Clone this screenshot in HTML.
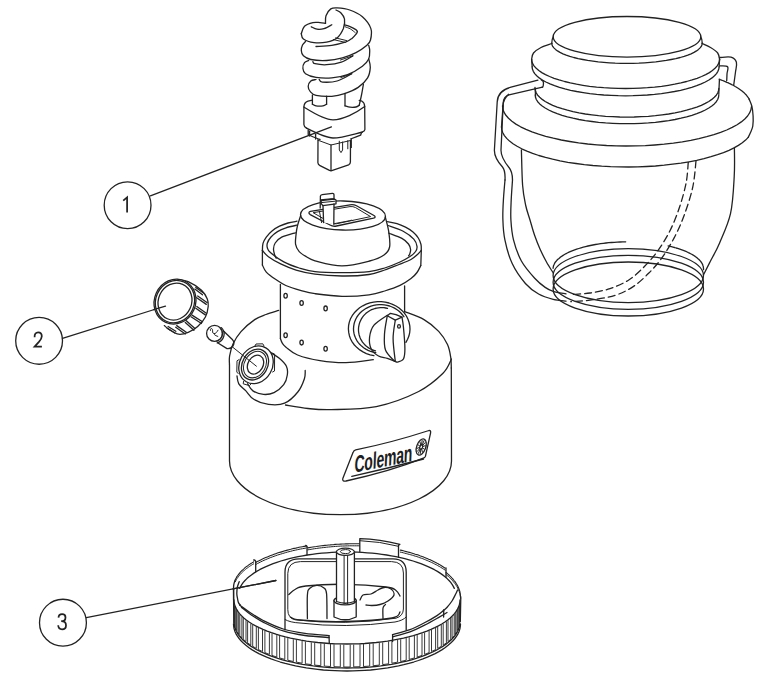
<!DOCTYPE html>
<html><head><meta charset="utf-8">
<style>
html,body{margin:0;padding:0;background:#fff;}
svg{display:block;}
text{font-family:"Liberation Sans",sans-serif;}
</style></head>
<body>
<svg width="760" height="681" viewBox="0 0 760 681">
<g fill="none" stroke="#222" stroke-width="1.3" stroke-linecap="round" stroke-linejoin="round">
<g id="callouts">
<circle cx="127.6" cy="205.2" r="23.4"/>
<line x1="150.4" y1="195.8" x2="331.4" y2="126.8"/>
<circle cx="39.1" cy="340.85" r="23.4"/>
<line x1="62.5" y1="338.4" x2="165.5" y2="306"/>
<circle cx="62.95" cy="622.7" r="23.45"/>
<line x1="86.3" y1="617.7" x2="275.9" y2="580.5"/>
<g stroke-width="1.75" stroke-linecap="butt" stroke-linejoin="miter">
<path d="M127.1,212.6 L127.1,197.4 L123.2,200.6"/>
<path d="M34.6,337.2 C34.4,334 36,332.3 38.1,332.3 C40.3,332.3 41.8,333.9 41.8,336.2 C41.8,338.5 40.6,339.9 38.9,341.9 L34.6,346.6 L41.9,346.6"/>
<path d="M58.5,617.6 C58.6,615.4 60.1,614.1 62.1,614.1 C64.1,614.1 65.5,615.5 65.5,617.4 C65.5,619.6 63.9,621.2 61.2,621.2 C64.4,621.2 66,623 66,625.4 C66,627.8 64.4,629.3 62.1,629.3 C59.8,629.3 58.3,627.8 58.2,625.3"/>
</g>

</g>
<g id="bulb">
<path d="M301.3,33.7 C301.8,32.5 302.6,28.2 304.5,26.3 C306.4,24.4 310.3,23.2 312.9,22.6 C315.5,22 317.9,22.5 320,22.6 C322.1,22.7 324.6,23.3 325.5,23.4"/>
<path d="M325.5,23.4 C325.6,22.1 325.1,18.2 326,15.8 C326.9,13.4 328.9,10.2 330.8,8.9 C332.7,7.6 334,7.7 337.1,7.9 C340.2,8.1 345.5,8.5 349.7,10 C353.9,11.5 358.9,13.7 362.4,16.8 C365.9,19.9 369.4,24.5 370.8,28.4 C372.2,32.3 371.2,37.1 370.5,40 C369.8,42.9 369,43.5 366.6,45.6 C364.2,47.7 360,50.6 356,52.6 C352,54.6 347.3,56.6 342.4,57.9 C337.5,59.2 331.9,60.2 326.6,60.5 C321.3,60.8 314.7,60.3 310.8,59.5 C306.9,58.7 305,57.3 303.4,55.8 C301.8,54.3 301.4,52.3 301.3,50.5 C301.2,48.7 301.8,46.5 302.5,45 C303.2,43.5 305,42.1 305.5,41.5"/>
<path d="M301.3,33.7 C301.6,34.6 301.3,37.5 303.4,39 C305.5,40.5 310.1,42.1 314,42.6 C317.9,43.1 322.8,42.9 326.6,42.1 C330.4,41.3 334.2,40.2 337,37.9 C339.8,35.6 342.1,31.5 343.4,28.4 C344.6,25.2 344.9,21.6 344.5,19 C344.1,16.4 342.4,14.5 341,13 C339.6,11.5 336.8,10.5 336,10"/>
<path d="M311.3,26.8 C312.2,27.2 314.9,28.9 317,29.2 C319.1,29.5 321.5,29.4 324,28.6 C326.5,27.9 330.5,25.4 331.8,24.7"/>
<path d="M316,46.5 C318.6,46.3 326.8,46.1 331.8,45.3 C336.8,44.5 342.6,42.9 346,41.8 C349.4,40.6 350.3,39.7 352,38.4 C353.7,37.1 355.3,35.1 356.2,34 C357.1,32.9 357.2,31.9 357.4,31.5"/>
<path d="M344.5,24.8 C345.4,25.1 348.1,25.8 350,26.6 C351.9,27.4 354.6,28.8 355.8,29.6 C357,30.4 357.1,31.2 357.4,31.5"/>
<path d="M345.2,26.8 C346.1,27.2 348.8,28 350.5,29 C352.2,30 354.4,32 355.2,32.6" stroke-width="1"/>
<path d="M333.4,39.6 L345.4,42.4" stroke-width="1"/>
<path d="M335.6,37.9 L346.6,40.6" stroke-width="1"/>
<path d="M308.7,60.5 C308,60.9 305.5,61.3 304.5,62.6 C303.5,63.9 302.7,66.6 302.9,68.4 C303.1,70.2 303.3,72.2 305.5,73.7 C307.7,75.2 311.6,76.7 316,77.4 C320.4,78.1 326.5,78.4 331.8,77.9 C337.1,77.5 342.5,76.6 347.6,74.7 C352.7,72.8 358.9,68.9 362.4,66.3 C365.9,63.7 367.5,61.6 368.7,59 C369.9,56.4 369.7,52.8 369.7,50.5 C369.7,48.2 368.9,46.2 368.7,45.3"/>
<path d="M312.9,61.6 C313.2,62 312.7,63.2 315,63.7 C317.3,64.2 322.2,65 326.6,64.7 C331,64.4 336.9,63.6 341.3,62.1 C345.7,60.6 351,56.8 352.9,55.8"/>
<path d="M340.4,60 L352.8,55.8" stroke-width="1"/>
<path d="M316,79.5 C315.1,79.8 312.1,79.9 310.8,81 C309.5,82.1 308.3,84.5 308.2,86.3 C308.1,88.1 309,90.1 310.3,91.6 C311.6,93.1 312.4,94.5 316,95.3 C319.6,96.1 327.1,96.6 331.8,96.3 C336.6,96 340.1,95.2 344.5,93.7 C348.9,92.2 354.3,90 358.2,87.4 C362.1,84.8 365.6,81.2 367.6,77.9 C369.6,74.6 370.1,70.6 370.3,67.4 C370.5,64.2 369,60.4 368.7,59"/>
<path d="M319.2,79.5 C319.7,79.9 319.4,81.8 322.4,82.1 C325.4,82.3 332.2,82.4 337.1,81 C342,79.6 349.4,74.9 351.8,73.7"/>
<path d="M340.8,77.6 L351.8,73.8" stroke-width="1"/>
<path d="M312.4,95 C312.4,96.5 312.4,102.7 312.4,104.2"/>
<path d="M326.6,96.2 C326.6,97.5 326.6,102.9 326.6,104.2"/>
<path d="M312.4,104.2 C313,104.5 314.2,105.5 316,105.8 C317.8,106.1 321.2,106.1 323,105.8 C324.8,105.5 326,104.5 326.6,104.2"/>
<path d="M345,93.5 C345,95.5 345,103.8 345,105.8"/>
<path d="M363.4,84.2 C363.1,86 362.2,91.5 361.5,95 C360.8,98.5 359.6,103.6 359.2,105.3"/>
<path d="M345,105.8 C345.8,106 348.2,107 350,107.2 C351.8,107.4 354.5,107.3 356,107 C357.5,106.7 358.7,105.6 359.2,105.3"/>
<path d="M312.4,100.2 L308,101.2 Q304,102.6 303.9,107 L303.9,124.5 Q304,127 306.5,128.2"/>
<path d="M359.2,100.4 L362,101.2 Q364.6,102.6 364.7,106.5 L364.9,129.5 Q364.8,131 362.5,132"/>
<path d="M303.9,107 C312,112 324,119.8 333,119.8 C343,119.8 356,113 364.7,106.5"/>
<path d="M306.5,128.2 C315,132.5 326,138 333,138 C342,138 354,134 362.5,132"/>
<path d="M308.2,130 L308.2,134.6 C314,137.2 318,139 320,139.5"/>
<path d="M361.5,132.5 L360.6,135.2 C357,136.8 352,138.5 350.5,139"/>
<path d="M309.6,131.2 L309.6,136"/>
<path d="M315.6,134.2 L315.6,139"/>
<path d="M318,139.6 L317.9,162.8 Q318,164.6 320,165.6 L329.5,170.4 Q331,171 332.5,170.4 L348.6,164.8 Q350.4,164 350.4,162 L350.5,140.6"/>
<path d="M331,145 L331,170.8"/>
<path d="M318,140.2 L331,145 L350.5,140.5" stroke-width="1"/>
<path d="M339.3,141.2 L339.3,150 L341,152.6 L342.6,150 L342.6,142" stroke-width="1"/>
<path d="M347.8,140.6 L347.8,148.8" stroke-width="1"/>
<path d="M351.4,139.2 L351.4,147.6" stroke-width="1"/>
</g>
<g id="globe">
<ellipse cx="627" cy="36.8" rx="73.8" ry="20.3"/>
<path d="M702.2,43.2 L702.0,44.8 L701.3,46.4 L700.1,47.9 L698.5,49.4 L696.5,50.9 L694.0,52.4 L691.1,53.8 L687.8,55.1 L684.2,56.3 L680.2,57.5 L675.8,58.6 L671.2,59.5 L666.3,60.4 L661.1,61.2 L655.8,61.9 L650.2,62.4 L644.6,62.8 L638.8,63.2 L632.9,63.3 L627.0,63.4 L621.1,63.3 L615.2,63.2 L609.4,62.8 L603.8,62.4 L598.2,61.9 L592.9,61.2 L587.7,60.4 L582.8,59.5 L578.2,58.6 L573.8,57.5 L569.8,56.3 L566.2,55.1 L562.9,53.8 L560.0,52.4 L557.5,50.9 L555.5,49.4 L553.9,47.9 L552.7,46.4 L552.0,44.8 L551.8,43.2"/>
<path d="M553.2,36.8 Q551.8,39 551.8,43.2"/>
<path d="M700.8,36.8 Q702.2,39 702.2,43.2"/>
<path d="M531.6,59.5 C531.9,58.4 531.9,55 533.5,53 C535.1,51 538,49.1 541,47.5 C544,45.9 550,44.2 551.8,43.5"/>
<path d="M719.6,59.5 C719.3,58.4 719.2,55 717.7,53 C716.2,51 713.1,49.1 710.5,47.5 C707.9,45.9 703.6,44.2 702.2,43.5"/>
<path d="M719.6,59.3 L719.3,61.6 L718.4,63.9 L717.0,66.1 L715.0,68.3 L712.4,70.5 L709.4,72.6 L705.7,74.6 L701.6,76.5 L697.1,78.3 L692.1,79.9 L686.6,81.5 L680.9,82.9 L674.7,84.2 L668.3,85.3 L661.6,86.3 L654.6,87.1 L647.5,87.7 L640.3,88.1 L633.0,88.4 L625.6,88.5 L618.2,88.4 L610.9,88.1 L603.7,87.7 L596.6,87.1 L589.6,86.3 L582.9,85.3 L576.5,84.2 L570.3,82.9 L564.6,81.5 L559.1,79.9 L554.1,78.3 L549.6,76.5 L545.5,74.6 L541.8,72.6 L538.8,70.5 L536.2,68.3 L534.2,66.1 L532.8,63.9 L531.9,61.6 L531.6,59.3"/>
<path d="M719.1,66.8 L718.8,69.1 L717.9,71.3 L716.5,73.6 L714.5,75.8 L712.0,77.9 L708.9,80.0 L705.3,82.0 L701.2,83.8 L696.7,85.6 L691.7,87.3 L686.3,88.9 L680.6,90.3 L674.5,91.5 L668.0,92.6 L661.4,93.6 L654.5,94.4 L647.4,95.0 L640.2,95.4 L632.9,95.7 L625.6,95.8 L618.3,95.7 L611.0,95.4 L603.8,95.0 L596.7,94.4 L589.8,93.6 L583.2,92.6 L576.7,91.5 L570.6,90.3 L564.9,88.9 L559.5,87.3 L554.5,85.6 L550.0,83.8 L545.9,82.0 L542.3,80.0 L539.2,77.9 L536.7,75.8 L534.7,73.6 L533.3,71.3 L532.4,69.1 L532.1,66.8"/>
<path d="M531.6,59.3 C531.7,60.5 532.1,65.5 532.2,66.8"/>
<path d="M719.6,59.3 C719.5,60.5 719.2,65.5 719.1,66.8"/>
<path d="M535,87.5 C535.1,88.9 535.5,94.6 535.6,96"/>
<path d="M719.4,80 C719.3,82.3 718.9,91.7 718.8,94"/>
<path d="M718.8,88.5 L718.5,90.7 L717.7,93.0 L716.3,95.2 L714.3,97.3 L711.8,99.4 L708.8,101.5 L705.3,103.4 L701.3,105.3 L696.8,107.1 L691.9,108.7 L686.6,110.2 L681.0,111.6 L675.0,112.9 L668.7,114.0 L662.1,114.9 L655.4,115.7 L648.4,116.3 L641.4,116.7 L634.2,117.0 L627.0,117.1 L619.8,117.0 L612.6,116.7 L605.6,116.3 L598.6,115.7 L591.9,114.9 L585.3,114.0 L579.0,112.9 L573.0,111.6 L567.4,110.2 L562.1,108.7 L557.2,107.1 L552.7,105.3 L548.7,103.4 L545.2,101.5 L542.2,99.4 L539.7,97.3 L537.7,95.2 L536.3,93.0 L535.5,90.7 L535.2,88.5"/>
<path d="M718.8,95.0 L718.5,97.3 L717.7,99.5 L716.3,101.7 L714.3,103.9 L711.8,106.0 L708.8,108.0 L705.3,110.0 L701.3,111.9 L696.8,113.6 L691.9,115.3 L686.6,116.8 L681.0,118.2 L675.0,119.5 L668.7,120.6 L662.1,121.5 L655.4,122.3 L648.4,122.9 L641.4,123.3 L634.2,123.6 L627.0,123.7 L619.8,123.6 L612.6,123.3 L605.6,122.9 L598.6,122.3 L591.9,121.5 L585.3,120.6 L579.0,119.5 L573.0,118.2 L567.4,116.8 L562.1,115.3 L557.2,113.6 L552.7,111.9 L548.7,110.0 L545.2,108.0 L542.2,106.0 L539.7,103.9 L537.7,101.7 L536.3,99.5 L535.5,97.3 L535.2,95.0"/>
<path d="M503.0,106.0 L503.0,105.7 L503.0,105.4 L503.0,105.1 L503.1,104.8 L503.1,104.5 L503.1,104.2 L503.2,103.9 L503.2,103.6 L503.3,103.3 L503.3,103.0 L503.4,102.7 L503.5,102.4 L503.6,102.1 L503.7,101.9 L503.8,101.6 L503.9,101.3 L504.0,101.0 L504.1,100.7 L504.2,100.4 L504.4,100.1 L504.5,99.8 L504.6,99.5 L504.8,99.2 L505.0,98.9 L505.1,98.6 L505.3,98.3 L505.5,98.0 L505.7,97.8 L505.9,97.5 L506.1,97.2 L506.3,96.9 L506.5,96.6 L506.7,96.3 L506.9,96.0 L507.2,95.7 L507.4,95.4 L507.6,95.2 L507.9,94.9 L508.2,94.6 L508.4,94.3"/>
<path d="M719.1,79.2 L720.3,79.7 L721.4,80.1 L722.5,80.5 L723.6,80.9 L724.7,81.4 L725.8,81.8 L726.8,82.3 L727.8,82.7 L728.8,83.2 L729.8,83.6 L730.8,84.1 L731.7,84.6 L732.6,85.0 L733.5,85.5 L734.4,86.0 L735.2,86.5 L736.1,87.0 L736.9,87.5 L737.7,88.0 L738.5,88.5 L739.2,89.0 L739.9,89.5 L740.6,90.0 L741.3,90.5 L742.0,91.0 L742.6,91.5 L743.2,92.1 L743.8,92.6 L744.4,93.1 L744.9,93.6 L745.5,94.2 L746.0,94.7 L746.4,95.2 L746.9,95.8 L747.3,96.3 L747.7,96.9 L748.1,97.4 L748.5,98.0 L748.8,98.5 L749.1,99.1"/>
<path d="M751.5,106.7 L750.9,109.8 L749.6,112.9 L747.6,116.0 L744.8,119.0 L741.3,121.9 L737.1,124.7 L732.2,127.4 L726.7,130.0 L720.6,132.4 L713.9,134.7 L706.7,136.7 L698.9,138.6 L690.8,140.3 L682.3,141.8 L673.4,143.1 L664.2,144.2 L654.8,145.0 L645.3,145.6 L635.6,145.9 L625.9,146.0 L616.2,145.8 L606.6,145.5 L597.0,144.8 L587.7,144.0 L578.6,142.9 L569.8,141.5 L561.3,140.0 L553.3,138.2 L545.7,136.3 L538.6,134.2 L532.0,131.9 L526.0,129.4 L520.6,126.8 L515.9,124.1 L511.9,121.2 L508.5,118.3 L505.9,115.3 L504.0,112.2 L502.9,109.1 L502.5,106.0"/>
<path d="M748.2,137.4 L745.6,140.1 L742.3,142.8 L738.4,145.4 L734.0,147.9 L729.0,150.3 L723.5,152.6 L717.5,154.7 L711.0,156.7 L704.0,158.6 L696.7,160.3 L689.0,161.8 L681.0,163.1 L672.7,164.2 L664.2,165.2 L655.5,166.0 L646.6,166.5 L637.7,166.9 L628.6,167.0 L619.6,166.9 L610.6,166.7 L601.7,166.2 L592.9,165.5 L584.3,164.6 L576.0,163.5 L567.8,162.3 L560.0,160.8 L552.6,159.2 L545.5,157.4 L538.8,155.5 L532.6,153.4 L526.9,151.1 L521.7,148.8 L517.1,146.3 L513.0,143.7 L509.5,141.1 L506.7,138.4 L504.4,135.6 L502.8,132.7 L501.8,129.9 L501.5,127.0"/>
<path d="M503,106 C502.8,109.5 501.8,123.5 501.5,127"/>
<path d="M749.1,99 C749.5,100.2 751.1,103.2 751.8,106 C752.5,108.8 752.9,112.7 753.1,116 C753.3,119.3 753.2,123.2 752.8,126 C752.4,128.8 751.3,130.6 750.5,132.5 C749.7,134.4 748.6,136.6 748.2,137.4"/>
<path d="M521.4,150 C521.6,155.9 521.9,176 522.6,185.2 C523.3,194.4 524.4,199.2 525.6,205 C526.8,210.8 528.5,215 530,220 C531.5,225 532.8,230.2 534.5,235 C536.2,239.8 538,244.6 540,249.1 C542,253.6 544.3,258 546.5,262 C548.7,266 552.1,271.1 553.2,272.9"/>
<path d="M734.4,148 C734.4,152.8 734.9,165.9 734.2,176.8 C733.6,187.8 733,202.6 730.5,213.7 C728,224.8 722.9,235.1 719.5,243.2 C716.1,251.2 712.7,256.7 710,262 C707.3,267.3 704.5,272.8 703.4,275"/>
<ellipse cx="628.3" cy="275.6" rx="75.2" ry="27"/>
<ellipse cx="628.3" cy="282.3" rx="75.2" ry="27"/>
<ellipse cx="628.3" cy="289" rx="75.2" ry="27"/>
<path d="M553.1,268.3 L553.2,267.3 L553.4,266.3 L553.7,265.3 L554.2,264.3 L554.7,263.2 L555.3,262.2 L556.1,261.3 L556.9,260.3 L557.9,259.3 L559.0,258.4 L560.1,257.4 L561.4,256.5 L562.7,255.6 L564.1,254.7 L565.7,253.8 L567.3,253.0 L569.0,252.2 L570.8,251.4 L572.7,250.6 L574.7,249.9 L576.7,249.2 L578.8,248.5 L581.0,247.8 L583.3,247.2 L585.6,246.6 L588.0,246.0 L590.4,245.5 L592.9,245.0 L595.4,244.5 L598.0,244.1 L600.6,243.7 L603.3,243.3 L606.0,243.0 L608.8,242.7 L611.5,242.5 L614.3,242.3 L617.2,242.1 L620.0,242.0 L622.8,241.9 L625.7,241.8"/>
<path d="M668.1,245.9 L669.8,246.3 L671.4,246.7 L673.0,247.1 L674.6,247.5 L676.1,248.0 L677.6,248.4 L679.1,248.9 L680.5,249.4 L681.9,249.9 L683.3,250.4 L684.6,250.9 L685.9,251.4 L687.2,252.0 L688.4,252.6 L689.5,253.1 L690.6,253.7 L691.7,254.3 L692.8,254.9 L693.8,255.5 L694.7,256.1 L695.6,256.8 L696.5,257.4 L697.3,258.0 L698.0,258.7 L698.7,259.3 L699.4,260.0 L700.0,260.7 L700.6,261.4 L701.1,262.0 L701.6,262.7 L702.0,263.4 L702.4,264.1 L702.7,264.8 L702.9,265.5 L703.2,266.2 L703.3,266.9 L703.4,267.6 L703.5,268.3 L703.5,269.0 L703.5,269.7"/>
<path d="M537.9,80.1 L511,87.2 C501,89.7 497.5,95 497.2,102 L494.4,150 C494.2,157 498,162 502.5,167 C505,170 505.3,174 505,180"/>
<path d="M505,180 C504.7,183.3 503.8,193.3 503.4,200 C503,206.7 502.6,213.4 502.9,220 C503.1,226.6 503.3,232.5 504.9,239.8 C506.4,247.1 508.8,256.3 512.2,263.6 C515.6,270.9 521,278.4 525.4,283.5 C529.8,288.6 534,291.4 538.6,294 C543.2,296.6 548.6,298.1 553.2,299.3 C557.8,300.5 563.9,300.9 566,301.2"/>
<path d="M542.5,87.2 L509,94.8 C505.5,95.8 503.4,99 503.2,103 L501,150 C500.8,157 504.5,162 509,167.5 C511.5,170.5 512.5,174 512.5,180"/>
<path d="M512.5,180 C512.3,183.3 511.5,193.3 511.2,200 C510.9,206.7 510.5,213.4 510.9,220 C511.3,226.6 511.8,233 513.5,239.8 C515.2,246.6 517.9,254.6 521.4,261 C524.9,267.4 530.7,273.8 534.7,278.2 C538.7,282.6 542.1,285.2 545.2,287.4 C548.3,289.6 549.7,290.3 553.2,291.4 C556.7,292.5 563.9,293.4 566,293.8"/>
<path d="M541.2,79.8 Q543.6,80.6 543.5,83 L543.2,86 Q543,87.3 541.8,87.4"/>
<path d="M719.5,57.5 C721.4,57.5 728.2,56.4 731,57.2 C733.8,58 735.6,59.8 736.4,62.3 C737.1,64.8 736,68.2 735.5,72 C735,75.8 734,83 733.7,85.2"/>
<path d="M719.8,65.9 C721.1,66 726.4,65.4 727.6,66.7 C728.8,68 727.1,71.7 727,74 C726.9,76.3 726.8,79.7 726.7,80.8"/>
<path d="M688.3,162.1 C687.9,165.6 687.6,175.5 686.1,183 C684.6,190.5 682.2,199.2 679.5,207.3 C676.8,215.4 673.3,224.2 669.6,231.5 C665.9,238.8 661.6,245.4 657.4,251.3 C653.2,257.2 649,261.9 644.2,266.7 C639.4,271.5 634.5,276.4 628.8,280 C623.1,283.6 616.5,286.4 610,288.6 C603.5,290.8 596.5,292 590,293 C583.5,294 574,294.3 570.8,294.6" stroke-dasharray="7 4"/>
<path d="M696,161 C695.5,165.4 694.7,178.2 692.7,187.4 C690.7,196.6 687,207.6 683.9,216 C680.8,224.4 677.7,231.1 674,238.1 C670.3,245.1 666.1,252 661.9,257.9 C657.7,263.8 653.4,268.5 648.6,273.3 C643.8,278.1 638.8,282.9 633.2,286.6 C627.6,290.3 622.2,293.1 615,295.4 C607.8,297.7 597.4,299.1 590,300.2 C582.6,301.2 574,301.4 570.8,301.7" stroke-dasharray="7 4"/>
</g>
<g id="base">
<ellipse cx="343" cy="215.5" rx="42.5" ry="14.5" transform="rotate(1.2 343 215.5)"/>
<path d="M310.5,211.4 L350,204.8 Q353.5,204.2 356.5,205.8 L374,215.5 Q376.5,217.2 373.5,218.2 L336.5,226 Q333,226.8 330,225 L310.2,214.6 Q307.5,212.4 310.5,211.4 Z"/>
<path d="M313.5,212.6 L350,206.6 Q353,206.2 355.6,207.6 L370.6,216.6 L336.4,223.8 Q333.6,224.4 331,223 Z" stroke-width="1"/>
<path d="M319.4,211.2 L321.6,222.6" stroke-width="1"/>
<path d="M334.6,223.6 L349.2,220.8 Q351.6,219.6 353,220.6" stroke-width="1"/>
<path d="M320.2,208 L320.4,196.2 Q320.6,194.8 322.2,194.6 L332.4,193.4 Q334,193.3 334,195 L334,199 L336,200 L336,203.8 L334,204 L333.8,224.2 L323.6,222.6 L323,205.5 L320.2,208 Z" fill="#fff" stroke="none"/>
<path d="M320.2,208 L320.4,196.2 Q320.6,194.8 322.2,194.6 L332.4,193.4 Q334,193.3 334,195 L334,198.6 L320.4,199.8" fill="#fff"/>
<path d="M321.2,203.6 L321.2,200.6 L334.4,199 L336,200 L336,203.8 L322.8,205.6 Z" fill="#fff"/>
<path d="M321.4,202.6 L335,201.2" stroke-width="1"/>
<path d="M323,205.5 L323.6,222.6"/>
<path d="M334,204 L333.8,224.2"/>
<path d="M300.6,215.6 C300.1,217.3 298.2,222.8 297.4,226 C296.6,229.2 296.3,231.9 296,235 C295.7,238.1 295.1,241.6 295.6,244.4 C296.1,247.2 297.4,249.6 299.2,251.6 C301,253.6 303.8,255.2 306.4,256.7 C309,258.2 309.1,259.3 315,260.8 C320.9,262.3 332.9,265.9 342,265.9 C351.1,265.9 362.6,262.8 369.6,261 C376.6,259.2 380.7,257.3 384,255 C387.3,252.7 388.8,250.8 389.6,247 C390.4,243.2 389.5,237 388.8,232 C388.1,227 385.9,219.5 385.3,217"/>
<path d="M297,221.2 C295.5,221.5 290.9,222.2 288,223 C285.1,223.8 282.2,224.9 279.5,226.2 C276.8,227.5 274.2,229.2 272,231 C269.8,232.8 267.8,235.1 266.3,237.2 C264.8,239.3 263.6,241.2 263,243.4 C262.4,245.6 262.5,249.3 262.4,250.5"/>
<path d="M387.6,221.6 C389.2,221.9 394,222.7 397,223.6 C400,224.5 402.8,225.8 405.5,227.2 C408.2,228.6 410.9,230.2 413,232 C415.1,233.8 417,235.9 418.3,238 C419.6,240.1 420.5,242.4 421,244.5 C421.5,246.6 421.2,249.5 421.3,250.5"/>
<path d="M262.4,250.5 C262.4,252.9 262.4,262.6 262.4,265"/>
<path d="M421.3,250.5 C421.2,253 420.9,263 420.8,265.5"/>
<path d="M262.5,250.5 C263.5,251.5 265.4,254.5 268.4,256.7 C271.4,258.9 276.1,261.7 280.7,263.9 C285.3,266.1 290.4,268.4 296.1,270.1 C301.8,271.8 307.4,273.2 315,274.2 C322.6,275.2 333,275.9 342,276 C351,276.1 361.9,275.5 369,274.5 C376.1,273.5 379.7,271.7 384.7,270 C389.7,268.3 394.6,266.2 399,264.5 C403.4,262.8 407.9,261.2 411,259.5 C414.1,257.8 415.8,256 417.5,254.5 C419.2,253 420.7,251.2 421.3,250.5"/>
<path d="M262.4,265 C263,266.2 264.1,269.7 266.3,272.1 C268.5,274.5 272.2,277.1 275.5,279.3 C278.8,281.5 281.5,283.6 285.8,285.5 C290.1,287.4 296.3,289.2 301.2,290.6 C306.1,292 308.2,292.8 315,293.7 C321.8,294.6 333,296.1 342,296.3 C351,296.5 361.9,295.7 369,294.8 C376.1,293.9 379.5,292.6 384.7,291 C389.9,289.4 395.6,287.5 400,285.4 C404.4,283.3 408.2,280.6 411,278.5 C413.8,276.4 415.4,274.7 417,272.5 C418.6,270.3 420.2,266.7 420.8,265.5"/>
<path d="M296.7,225.2 C294.9,225.6 289.2,226.7 286,227.8 C282.8,228.9 280,230.1 277.5,231.6 C275,233.1 272.7,235.1 271,237 C269.3,238.9 268,241.2 267.4,243 C266.8,244.8 266.9,246.4 267.4,248 C267.9,249.6 267.7,250.3 270.4,252.6 C273.1,254.9 279,259.3 283.8,261.9 C288.6,264.5 294,266.4 299.2,268 C304.4,269.6 307.9,270.8 315,271.6 C322.1,272.4 333,272.6 342,272.6 C351,272.6 361.9,272.4 369,271.6 C376.1,270.8 379.5,269.6 384.7,268 C389.9,266.4 395.8,263.9 400,262 C404.2,260.1 407.4,258.2 410,256.5 C412.6,254.8 414.4,253.2 415.6,251.5 C416.8,249.8 417.3,248.5 417,246.4 C416.7,244.3 416.1,241.6 413.8,239.1 C411.5,236.6 407.5,233.5 403.2,231.2 C398.9,228.9 390.5,226.4 388,225.5"/>
<path d="M295.4,232.8 C293.1,233.5 285.1,235.5 281.7,237.2 C278.3,238.9 276.6,241 275.2,243 C273.8,245 273.6,247.1 273.5,249 C273.4,250.9 274.1,253 274.5,254.5 C274.9,256 275.9,257.6 276.2,258.2"/>
<path d="M388.6,233 C390.8,233.9 398.6,236.6 401.9,238.4 C405.2,240.2 407.1,242.2 408.5,244 C409.9,245.8 410.4,247.9 410.6,249.5 C410.8,251.1 410.1,252.8 409.8,253.8 C409.5,254.9 408.8,255.5 408.6,255.8"/>
<path d="M280.4,284.5 C280.4,293.5 280.4,329.6 280.4,338.6"/>
<path d="M404.6,286 C404.6,290.3 404.6,307.5 404.6,311.8"/>
<path d="M280.4,338.6 C280.7,339.4 281.4,341.8 282.3,343.2 C283.2,344.6 283.4,345.2 286,347.2 C288.6,349.2 291.9,352.8 297.6,355 C303.3,357.2 311.9,359.3 320,360.6 C328.1,361.9 337.1,362.9 346,362.7 C354.9,362.5 368.8,360.2 373.3,359.7"/>
<ellipse cx="285.6" cy="295.8" rx="1.7" ry="2.4"/>
<ellipse cx="301.6" cy="303" rx="1.7" ry="2.4"/>
<ellipse cx="325.6" cy="308.4" rx="1.7" ry="2.4"/>
<ellipse cx="285.6" cy="335.2" rx="1.7" ry="2.4"/>
<ellipse cx="301.6" cy="342.6" rx="1.7" ry="2.4"/>
<ellipse cx="325.6" cy="348.8" rx="1.7" ry="2.4"/>
<path d="M278.7,310.4 C276.6,311.1 270,313 266,314.5 C262,316 258.9,316.8 254.7,319.6 C250.5,322.5 244.6,327.5 241,331.6 C237.4,335.7 234.9,339.9 233,344 C231.1,348.1 230.2,352.5 229.6,356 C229,359.5 229.5,363.5 229.5,365"/>
<path d="M404.6,311.6 C407.8,312.9 418.3,316.3 424,319.6 C429.7,322.9 434.8,327.2 438.7,331.4 C442.6,335.6 445.5,340.2 447.5,344.6 C449.5,349 450.2,353.9 450.8,357.8 C451.4,361.7 451.2,366.3 451.3,368"/>
<path d="M229.5,365 L229.5,461 A111,53.7 0 0 0 451.5,461 L451.3,368"/>
<path d="M285.5,405 C289.2,405.6 300.4,407.7 308,408.5 C315.6,409.3 319.6,409.9 331,409.6 C342.4,409.3 361.7,409.6 376.3,406.6 C390.9,403.6 407.6,397.1 418.7,391.5 C429.8,385.9 437.5,378.7 443,373.3 C448.5,367.9 450.1,361.4 451.5,359"/>
<path d="M237,376 C237.3,377.3 237.3,381.3 238.8,383.8 C240.3,386.3 243.4,388.3 245.9,390.9 C248.4,393.5 250,397.1 253.8,399.3 C257.6,401.6 263.4,403.8 268.5,404.4 C273.6,405 279.7,405.3 284.6,403.2 C289.5,401.1 294.5,396.1 297.8,392 C301.1,387.9 303.2,382.3 304.4,378.7 C305.6,375.1 305.1,371.9 305.2,370.5"/>
<ellipse cx="256" cy="364.8" rx="19.6" ry="16.4" transform="rotate(-60 256 364.8)" fill="#fff"/>
<path d="M271.4,353 C272.7,353.9 276.8,356.1 279.3,358.3 C281.8,360.5 285.1,363.4 286.4,366.2 C287.7,369 287.8,371.9 287.3,375 C286.9,378.1 285.9,381.8 283.7,384.7 C281.5,387.6 277.4,391 274,392.6 C270.6,394.2 267,394.7 263.5,394.4 C260,394.1 255.6,392.7 252.9,390.9 C250.2,389.1 248.5,385 247.6,383.8"/>
<ellipse cx="255" cy="364.6" rx="16.2" ry="12.6" transform="rotate(-60 255 364.6)"/>
<ellipse cx="255" cy="364.6" rx="14" ry="10.6" transform="rotate(-60 255 364.6)" stroke-width="1"/>
<ellipse cx="255.5" cy="364.6" rx="10" ry="7.5" transform="rotate(-60 255.5 364.6)"/>
<path d="M255,346 L256,344 L262.8,343.8 L264,346" stroke-width="1"/>
<path d="M272,353 L274.6,354 L274.5,371 L272.6,372" stroke-width="1"/>
<path d="M239.2,359.5 L237,360.8 L236.8,372 L238.2,373.6" stroke-width="1"/>
<path d="M243.6,381.4 L243.2,383.8 L249.4,385.6 L250.8,384.2" stroke-width="1"/>
<path d="M232.5,347 L256.4,366.2" stroke-width="1"/>
<path d="M373.9,355.6 L370.1,354.8 L366.4,353.6 L363.0,351.9 L359.8,349.9 L357.0,347.6 L354.4,345.0 L352.3,342.1 L350.6,339.0 L349.4,335.7 L348.7,332.4 L348.4,328.9 L348.6,325.5 L349.3,322.1 L350.5,318.8 L352.2,315.7 L354.3,312.8 L356.8,310.2 L359.6,307.8 L362.8,305.8 L366.2,304.1 L369.8,302.9 L373.6,302.1 L377.5,301.6 L381.3,301.7 L385.2,302.1 L389.0,303.0 L392.6,304.3 L396.0,306.0 L399.1,308.0 L401.9,310.4 L404.4,313.1 L406.4,316.0 L408.0,319.2 L409.1,322.5 L409.8,325.8 L410.0,329.3 L409.7,332.7 L408.9,336.1 L407.6,339.3 L405.9,342.4"/>
<path d="M375.8,352.6 L373.2,352.1 L370.6,351.3 L368.1,350.3 L365.8,349.1 L363.6,347.7 L361.6,346.1 L359.7,344.3 L358.1,342.3 L356.7,340.3 L355.6,338.1 L354.6,335.8 L354.0,333.4 L353.6,331.0 L353.5,328.6 L353.7,326.2 L354.1,323.8 L354.8,321.4 L355.7,319.2 L356.9,317.0 L358.4,314.9 L360.0,313.0 L361.9,311.2 L364.0,309.7 L366.2,308.3 L368.6,307.1 L371.0,306.1 L373.6,305.4 L376.3,304.9 L379.0,304.6 L381.7,304.6 L384.4,304.9 L387.0,305.3 L389.6,306.0 L392.1,307.0 L394.5,308.1 L396.7,309.5 L398.8,311.0 L400.7,312.8 L402.4,314.7 L403.9,316.7"/>
<path d="M375.5,350.9 L373.8,350.3 L372.1,349.7 L370.5,348.9 L369.0,348.1 L367.5,347.1 L366.1,345.9 L364.8,344.7 L363.6,343.4 L362.5,342.1 L361.6,340.6 L360.7,339.1 L360.0,337.5 L359.4,335.8 L359.0,334.2 L358.7,332.5 L358.5,330.8 L358.5,329.0 L358.6,327.3 L358.9,325.6 L359.3,323.9 L359.8,322.3 L360.5,320.7 L361.3,319.1 L362.2,317.6 L363.3,316.2 L364.4,314.9 L365.7,313.6 L367.0,312.5 L368.5,311.5 L370.0,310.5 L371.6,309.7 L373.3,309.1 L375.0,308.5 L376.7,308.1 L378.5,307.8 L380.3,307.6 L382.1,307.6 L383.9,307.7 L385.7,308.0 L387.5,308.3"/>
<path d="M387.3,315.2 C385.1,316.9 376.9,321.6 374,325.2 C371.1,328.8 370.1,333.1 369.6,337 C369.1,340.9 369.6,345.5 371.1,348.7 C372.6,351.9 375.8,354.4 378.5,356 C381.2,357.6 384.6,357.4 387.3,358.3 C390,359.2 393.4,360.7 394.6,361.2"/>
<path d="M387.3,315.7 C386.8,318.8 384.8,328.3 384.5,334 C384.2,339.7 383.8,345.4 385.5,350 C387.2,354.6 393.1,359.5 394.6,361.4"/>
<path d="M395.3,320.1 C394.9,323.2 393.1,331.6 393.1,338.5 C393.1,345.4 394.9,357.6 395.3,361.4"/>
<path d="M387.3,315.7 L390.4,313.3 L396,314.6 L402,317.2 L395.3,320.1 Z"/>
<path d="M402,317.2 C402.2,318.8 402.9,321.4 403.4,326.7 C403.9,331.9 404.9,343.3 404.9,348.7 C404.9,354.1 404.6,356.8 403.4,359 C402.2,361.2 398.9,361.6 397.5,362 C396.1,362.4 395.7,361.5 395.3,361.4"/>
<ellipse cx="399" cy="326.4" rx="1.4" ry="1.8"/>
<path d="M355.7,449.9 Q392,442.5 429,430.5 Q431,430.3 430.6,432.8 L425.4,456.4 Q425,457.6 423.4,458.2 Q390,471.5 346,481 Q342,481.5 342.8,478.6 L353,452.6 Q353.8,450.4 355.7,449.9 Z"/>
<path d="M351.8,476.4 Q389,468 423.6,459" stroke-width="1.3"/>
<ellipse cx="421.2" cy="447" rx="4.5" ry="8.4" transform="rotate(20 421.2 447)" stroke-width="1.3"/>
<path d="M422.21,447.69 L424.22,449.13 M421.63,448.60 L422.39,452.02 M420.92,449.07 L420.25,453.56 M420.30,448.99 L418.36,453.34 M419.91,448.38 L417.23,451.43 M419.87,447.39 L417.17,448.32 M420.19,446.31 L418.18,444.87 M420.77,445.40 L420.01,441.98 M421.48,444.93 L422.15,440.44 M422.10,445.01 L424.04,440.66 M422.49,445.62 L425.17,442.57 M422.53,446.61 L425.23,445.68 " stroke-width="1"/>
<ellipse cx="421.2" cy="447" rx="1.4" ry="2.4" transform="rotate(20 421.2 447)" stroke-width="1"/>
</g>
<g id="cap">
<path d="M177.7,279.3 C179.4,279.7 184.2,279.9 188.2,281.7 C192.2,283.5 198.3,287.4 201.5,290.3 C204.7,293.2 206.2,296.2 207.3,298.9 C208.4,301.6 208.5,303.5 208.2,306.5 C207.9,309.5 207.2,313.7 205.4,317 C203.7,320.3 200.6,323.9 197.7,326.5 C194.8,329.1 191.4,331 188.2,332.3 C185,333.6 181.8,334.7 178.6,334.2 C175.4,333.7 171.5,330.8 169.1,329.4 C166.7,328 165.1,326.2 164.3,325.6"/>
<path d="M195.8,287.4 L203.5,293.1"/>
<path d="M194.8,289.1 L202.5,294.8"/>
<path d="M197.7,296.0 L207.3,302.7"/>
<path d="M196.7,297.7 L206.3,304.4"/>
<path d="M196.8,306.5 L206.3,313.2"/>
<path d="M195.8,308.2 L205.3,314.9"/>
<path d="M192.0,315.1 L202.5,321.8"/>
<path d="M191.0,316.8 L201.5,323.5"/>
<path d="M186.3,320.8 L194.9,328.5"/>
<path d="M185.3,322.5 L193.9,330.2"/>
<path d="M176.7,325.6 L186.3,332.3"/>
<path d="M175.7,327.3 L185.3,334.0"/>
<path d="M168.1,326.5 L175.8,331.3"/>
<path d="M167.1,328.2 L174.8,333.0"/>
<ellipse cx="175" cy="301.6" rx="20.6" ry="22.8" transform="rotate(24 175 301.6)" fill="#fff"/>
<ellipse cx="175" cy="301.6" rx="19.3" ry="21.5" transform="rotate(24 175 301.6)"/>
<ellipse cx="175" cy="301.6" rx="16.6" ry="18.8" transform="rotate(24 175 301.6)"/>
<path d="M223.5,331 L232.6,339.8 Q235,342.6 233,346 Q230.5,349.2 227,348.6 L217.6,342.7"/>
<circle cx="214.6" cy="333.4" r="8" fill="#fff"/>
<path d="M221.4,327.6 A9,9 0 0 1 217.2,342.8"/>
<path d="M220.2,328.6 A7.6,7.6 0 0 1 216.6,341.2" stroke-width="0.9"/>
<path d="M210.4,330.4 C209.8,328.5 211.8,327.8 212.4,329.4 C213,331.4 212,333 213.8,333.6 C215.8,334 217,331.8 218,330.2 M214.4,334.6 C215.4,335.6 216.6,336 217.8,336.4" stroke-width="1"/>
<path d="M153.5,309.6 L165.5,306.1"/>
</g>
<g id="cover">
<path d="M233.6,600.0 L233.6,590.0 L233.6,586.1 L233.8,584.7 L234.0,583.7 L234.2,582.9 L234.4,582.2 L234.6,581.6 L234.8,581.1 L235.0,580.5 L235.2,580.1"/>
<path d="M235.3,579.8 L235.9,578.6 L236.5,577.4 L237.1,576.4 L237.8,575.5 L238.4,574.7 L239.0,573.9 L239.6,573.1 L240.2,572.4 L240.8,571.7 L241.4,571.1 L242.0,570.5 L242.7,569.9 L243.3,569.3 L243.9,568.8 L244.5,568.2 L245.1,567.7 L245.7,567.2 L246.3,566.7 L247.0,566.3 L247.6,565.8 L248.2,565.4 L248.8,564.9 L249.4,564.5 L250.0,564.1 L250.6,563.7 L251.2,563.3 L251.9,562.9 L252.5,562.5 L253.1,562.2 L253.7,561.8" stroke-width="1.1"/>
<path d="M235.3,581.8 L235.9,580.6 L236.5,579.4 L237.1,578.4 L237.8,577.5 L238.4,576.7 L239.0,575.9 L239.6,575.1 L240.2,574.4 L240.8,573.7 L241.4,573.1 L242.0,572.5 L242.7,571.9 L243.3,571.3 L243.9,570.8 L244.5,570.2 L245.1,569.7 L245.7,569.2 L246.3,568.7 L247.0,568.3 L247.6,567.8 L248.2,567.4 L248.8,566.9 L249.4,566.5 L250.0,566.1 L250.6,565.7 L251.2,565.3 L251.9,564.9 L252.5,564.5 L253.1,564.2 L253.7,563.8" stroke-width="1"/>
<path d="M255.7,562.6 L257.4,561.6 L259.0,560.8 L260.7,559.9 L262.4,559.1 L264.0,558.3 L265.7,557.6 L267.4,556.9 L269.0,556.2 L270.7,555.5 L272.4,554.9 L274.0,554.3 L275.7,553.7 L277.4,553.1 L279.0,552.6 L280.7,552.1 L282.4,551.6 L284.0,551.1 L285.7,550.6 L287.4,550.1 L289.0,549.7 L290.7,549.3 L292.4,548.8 L294.0,548.4 L295.7,548.1 L297.4,547.7 L299.0,547.3 L300.7,547.0 L302.4,546.7 L304.0,546.4 L305.7,546.1" stroke-width="1.1"/>
<path d="M255.7,564.6 L257.4,563.6 L259.0,562.8 L260.7,561.9 L262.4,561.1 L264.0,560.3 L265.7,559.6 L267.4,558.9 L269.0,558.2 L270.7,557.5 L272.4,556.9 L274.0,556.3 L275.7,555.7 L277.4,555.1 L279.0,554.6 L280.7,554.1 L282.4,553.6 L284.0,553.1 L285.7,552.6 L287.4,552.1 L289.0,551.7 L290.7,551.3 L292.4,550.8 L294.0,550.4 L295.7,550.1 L297.4,549.7 L299.0,549.3 L300.7,549.0 L302.4,548.7 L304.0,548.4 L305.7,548.1" stroke-width="1"/>
<path d="M307.6,547.9 L309.3,547.6 L311.1,547.3 L312.8,547.0 L314.6,546.7 L316.3,546.5 L318.0,546.2 L319.8,546.0 L321.5,545.8 L323.3,545.6 L325.0,545.4 L326.7,545.2 L328.5,545.0 L330.2,544.9 L332.0,544.7 L333.7,544.6 L335.4,544.4 L337.2,544.3 L338.9,544.2 L340.7,544.1 L342.4,544.0 L344.1,544.0 L345.9,543.9 L347.6,543.9 L349.4,543.8 L351.1,543.8 L352.8,543.8 L354.6,543.8 L356.3,543.8 L358.1,543.8 L359.8,543.8" stroke-width="1.1"/>
<path d="M307.6,549.9 L309.3,549.6 L311.1,549.3 L312.8,549.0 L314.6,548.7 L316.3,548.5 L318.0,548.2 L319.8,548.0 L321.5,547.8 L323.3,547.6 L325.0,547.4 L326.7,547.2 L328.5,547.0 L330.2,546.9 L332.0,546.7 L333.7,546.6 L335.4,546.4 L337.2,546.3 L338.9,546.2 L340.7,546.1 L342.4,546.0 L344.1,546.0 L345.9,545.9 L347.6,545.9 L349.4,545.8 L351.1,545.8 L352.8,545.8 L354.6,545.8 L356.3,545.8 L358.1,545.8 L359.8,545.8" stroke-width="1"/>
<path d="M359.8,551.6 L359.8,538.7 Q380,539.4 399.9,544.3 L398.5,545.4 L398.5,557.4" fill="#fff"/>
<path d="M360,540.7 Q380,541.4 398.5,546.3" stroke-width="1"/>
<path d="M400.3,550.1 L401.8,550.4 L403.3,550.8 L404.8,551.2 L406.3,551.6 L407.8,552.0 L409.3,552.4 L410.8,552.8 L412.3,553.2 L413.8,553.7 L415.3,554.2 L416.8,554.6 L418.3,555.1 L419.8,555.7 L421.3,556.2 L422.8,556.7 L424.2,557.3 L425.7,557.9 L427.2,558.5 L428.7,559.2 L430.2,559.8 L431.7,560.5 L433.2,561.2 L434.7,562.0 L436.2,562.7 L437.7,563.6 L439.2,564.4 L440.7,565.3 L442.2,566.2 L443.7,567.2 L445.2,568.2" stroke-width="1.1"/>
<path d="M400.3,552.1 L401.8,552.4 L403.3,552.8 L404.8,553.2 L406.3,553.6 L407.8,554.0 L409.3,554.4 L410.8,554.8 L412.3,555.2 L413.8,555.7 L415.3,556.2 L416.8,556.6 L418.3,557.1 L419.8,557.7 L421.3,558.2 L422.8,558.7 L424.2,559.3 L425.7,559.9 L427.2,560.5 L428.7,561.2 L430.2,561.8 L431.7,562.5 L433.2,563.2 L434.7,564.0 L436.2,564.7 L437.7,565.6 L439.2,566.4 L440.7,567.3 L442.2,568.2 L443.7,569.2 L445.2,570.2" stroke-width="1"/>
<path d="M446.0,572.4 L446.7,573.0 L447.5,573.7 L448.2,574.3 L448.9,575.0 L449.6,575.7 L450.4,576.4 L451.1,577.1 L451.8,577.9 L452.6,578.7 L453.3,579.6 L454.0,580.5 L454.8,581.4 L455.5,582.4 L456.2,583.5 L457.0,584.7 L457.7,586.0 L458.4,587.5 L459.1,589.2 L459.9,591.6 L460.6,596.5" stroke-width="1.1"/>
<path d="M446.0,574.4 L446.7,575.0 L447.5,575.7 L448.2,576.3 L448.9,577.0 L449.6,577.7 L450.4,578.4 L451.1,579.1 L451.8,579.9 L452.6,580.7 L453.3,581.6 L454.0,582.5 L454.8,583.4 L455.5,584.4 L456.2,585.5 L457.0,586.7 L457.7,588.0 L458.4,589.5 L459.1,591.2 L459.9,593.6 L460.6,598.5" stroke-width="1"/>
<path d="M255.7,561.3 L255.7,571.8"/>
<path d="M307,546.8 L307,554.7"/>
<path d="M446,568 L446,577"/>
<path d="M253.7,560 Q255.2,559.8 255.7,561.3"/>
<path d="M305.7,545.5 Q306.8,545.4 307,546.8"/>
<path d="M443.8,609.6 L443.6,617"/>
<path d="M239.7,588.4 L240.7,586.4 L241.9,584.4 L243.3,582.4 L245.0,580.5 L246.9,578.6 L249.0,576.7 L251.4,574.9 L253.9,573.1 L256.6,571.4 L259.6,569.7 L262.7,568.1 L266.0,566.6 L269.5,565.1 L273.1,563.6 L276.9,562.3 L280.9,561.0 L285.0,559.8 L289.2,558.7 L293.6,557.6 L298.1,556.7 L302.7,555.8 L307.3,555.0 L312.1,554.3 L317.0,553.7 L321.9,553.2 L326.8,552.8 L331.8,552.4 L336.9,552.2 L341.9,552.0 L347.0,552.0 L352.1,552.0 L357.1,552.2 L362.2,552.4 L367.2,552.8 L372.1,553.2 L377.0,553.7 L381.9,554.3 L386.7,555.0 L391.3,555.8 L395.9,556.7 L400.4,557.6 L404.8,558.7 L409.0,559.8 L413.1,561.0 L417.1,562.3 L420.9,563.6 L424.5,565.1 L428.0,566.6 L431.3,568.1 L434.4,569.7 L437.4,571.4 L440.1,573.1 L442.6,574.9 L445.0,576.7 L447.1,578.6 L449.0,580.5 L450.7,582.4 L452.1,584.4 L453.3,586.4 L454.3,588.4"/>
<path d="M233.5,588 L233.8,623"/>
<path d="M460.8,597 L460.3,621.6"/>
<path d="M239.2,581.7 C238.9,582.6 237.8,585 237.4,587 C237,589 236.8,591.5 236.8,593.5 C236.8,595.5 237.3,597.4 237.6,599 C237.9,600.6 238.1,601.9 238.6,602.9 C239.1,603.9 240.2,604.8 240.5,605.2"/>
<path d="M457.5,590 C457.2,590.7 456.6,592.2 455.7,594 C454.8,595.8 453.5,598.8 452,601 C450.5,603.2 448.3,605.9 446.9,607.5 C445.5,609.1 444,610.1 443.4,610.6"/>
<path d="M239.7,605.2 C241.4,606.4 246.1,610 250,612.5 C253.9,615 257.7,617.8 263.2,620.5 C268.7,623.2 276.2,626.9 283.2,629 C290.2,631.1 297.4,632.3 305,633.4 C312.6,634.5 325,635.2 329,635.6"/>
<path d="M241.5,607.4 C243.1,608.6 247.2,612.3 251,614.8 C254.8,617.3 258.5,619.9 264,622.6 C269.5,625.3 277.2,629.1 284,631.2 C290.8,633.4 297.5,634.5 305,635.5 C312.5,636.5 325,637.2 329,637.5"/>
<path d="M392.6,634.6 C395.5,633.8 404.8,631.5 410,629.6 C415.2,627.7 419.5,625.3 424,623 C428.5,620.7 433.8,617.7 437,615.6 C440.2,613.5 442.3,611.4 443.4,610.6"/>
<path d="M392.6,636.8 C395.5,636 404.7,633.7 410,631.8 C415.3,629.9 419.9,627.6 424.6,625.2 C429.3,622.8 434.7,619.7 438.4,617.6 C442.1,615.5 445.6,613.4 447,612.5"/>
<path d="M329,635.6 L329.3,643.4"/>
<path d="M392.6,634.6 L392.6,641.6"/>
<path d="M460.0,600.0 L459.8,602.3 L459.4,604.6 L458.6,606.9 L457.5,609.1 L456.1,611.4 L454.5,613.6 L452.5,615.8 L450.2,617.9 L447.7,620.0 L444.9,622.0 L441.8,624.0 L438.4,625.9 L434.8,627.7 L431.0,629.4 L426.9,631.1 L422.6,632.7 L418.1,634.2 L413.4,635.6 L408.5,636.9 L403.5,638.1 L398.3,639.2 L393.0,640.2 L387.5,641.1 L381.9,641.8 L376.2,642.5 L370.5,643.0 L364.7,643.5 L358.8,643.8 L352.9,643.9 L347.0,644.0 L341.1,643.9 L335.2,643.8 L329.3,643.5 L323.5,643.0 L317.8,642.5 L312.1,641.8 L306.5,641.1 L301.0,640.2 L295.7,639.2 L290.5,638.1 L285.5,636.9 L280.6,635.6 L275.9,634.2 L271.4,632.7 L267.1,631.1 L263.0,629.4 L259.2,627.7 L255.6,625.9 L252.2,624.0 L249.1,622.0 L246.3,620.0 L243.8,617.9 L241.5,615.8 L239.5,613.6 L237.9,611.4 L236.5,609.1 L235.4,606.9 L234.6,604.6 L234.2,602.3 L234.0,600.0"/>
<path d="M459.8,624.4 L459.4,626.7 L458.7,629.0 L457.7,631.3 L456.4,633.6 L454.8,635.8 L452.9,638.0 L450.8,640.2 L448.4,642.3 L445.7,644.4 L442.8,646.4 L439.7,648.3 L436.3,650.2 L432.7,652.0 L428.8,653.7 L424.8,655.4 L420.5,656.9 L416.1,658.4 L411.5,659.8 L406.7,661.1 L401.8,662.2 L396.7,663.3 L391.5,664.3 L386.2,665.1 L380.8,665.9 L375.3,666.5 L369.7,667.1 L364.1,667.5 L358.4,667.8 L352.7,667.9 L347.0,668.0 L341.3,667.9 L335.6,667.8 L329.9,667.5 L324.3,667.1 L318.7,666.5 L313.2,665.9 L307.8,665.1 L302.5,664.3 L297.3,663.3 L292.2,662.2 L287.3,661.1 L282.5,659.8 L277.9,658.4 L273.5,656.9 L269.2,655.4 L265.2,653.7 L261.3,652.0 L257.7,650.2 L254.3,648.3 L251.2,646.4 L248.3,644.4 L245.6,642.3 L243.2,640.2 L241.1,638.0 L239.2,635.8 L237.6,633.6 L236.3,631.3 L235.3,629.0 L234.6,626.7 L234.2,624.4"/>
<path d="M460.5,624.0 L460.3,626.5 L459.9,628.9 L459.1,631.4 L458.0,633.8 L456.6,636.2 L454.9,638.5 L453.0,640.8 L450.7,643.1 L448.1,645.3 L445.3,647.5 L442.2,649.6 L438.8,651.6 L435.2,653.6 L431.3,655.4 L427.3,657.2 L422.9,658.9 L418.4,660.5 L413.7,662.0 L408.8,663.4 L403.8,664.7 L398.5,665.9 L393.2,666.9 L387.7,667.9 L382.1,668.7 L376.4,669.4 L370.6,670.0 L364.8,670.4 L358.9,670.7 L352.9,670.9 L347.0,671.0 L341.1,670.9 L335.1,670.7 L329.2,670.4 L323.4,670.0 L317.6,669.4 L311.9,668.7 L306.3,667.9 L300.8,666.9 L295.5,665.9 L290.2,664.7 L285.2,663.4 L280.3,662.0 L275.6,660.5 L271.1,658.9 L266.7,657.2 L262.7,655.4 L258.8,653.6 L255.2,651.6 L251.8,649.6 L248.7,647.5 L245.9,645.3 L243.3,643.1 L241.0,640.8 L239.1,638.5 L237.4,636.2 L236.0,633.8 L234.9,631.4 L234.1,628.9 L233.7,626.5 L233.5,624.0"/>
<path d="M459.8,603.6 L459.8,623.7 L459.3,626.3 L459.3,606.1" stroke-width="0.9"/>
<path d="M458.8,607.4 L458.8,627.7 L457.7,630.3 L457.7,609.9" stroke-width="0.9"/>
<path d="M456.9,611.2 L456.9,631.7 L455.3,634.1 L455.3,613.6" stroke-width="0.9"/>
<path d="M454.2,614.9 L454.2,635.5 L452.1,637.9 L452.1,617.2" stroke-width="0.9"/>
<path d="M450.7,618.5 L450.7,639.3 L448.0,641.6 L448.0,620.7" stroke-width="0.9"/>
<path d="M446.4,621.9 L446.4,642.9 L443.2,645.1 L443.2,624.1" stroke-width="0.9"/>
<path d="M441.3,625.2 L441.3,646.3 L437.7,648.4 L437.7,627.2" stroke-width="0.9"/>
<path d="M435.6,628.3 L435.6,649.6 L431.5,651.5 L431.5,630.2" stroke-width="0.9"/>
<path d="M429.1,631.2 L429.1,652.6 L424.6,654.4 L424.6,633.0" stroke-width="0.9"/>
<path d="M422.0,633.9 L422.0,655.4 L417.2,657.1 L417.2,635.5" stroke-width="0.9"/>
<path d="M414.4,636.3 L414.4,657.9 L409.2,659.4 L409.2,637.7" stroke-width="0.9"/>
<path d="M406.2,638.5 L406.2,660.2 L400.7,661.5 L400.7,639.7" stroke-width="0.9"/>
<path d="M397.6,640.3 L397.6,662.1 L391.9,663.2 L391.9,641.4" stroke-width="0.9"/>
<path d="M388.6,641.9 L388.6,663.8 L382.7,664.6 L382.7,642.8" stroke-width="0.9"/>
<path d="M379.3,643.2 L379.3,665.1 L373.2,665.7 L373.2,643.8" stroke-width="0.9"/>
<path d="M369.7,644.1 L369.7,666.1 L363.5,666.5 L363.5,644.5" stroke-width="0.9"/>
<path d="M360.0,644.7 L360.0,666.7 L353.7,666.9 L353.7,644.9" stroke-width="0.9"/>
<path d="M350.2,645.0 L350.2,667.0 L343.8,667.0 L343.8,645.0" stroke-width="0.9"/>
<path d="M340.3,644.9 L340.3,666.9 L334.0,666.7 L334.0,644.7" stroke-width="0.9"/>
<path d="M330.5,644.5 L330.5,666.5 L324.3,666.1 L324.3,644.1" stroke-width="0.9"/>
<path d="M320.8,643.8 L320.8,665.7 L314.7,665.1 L314.7,643.2" stroke-width="0.9"/>
<path d="M311.3,642.8 L311.3,664.6 L305.4,663.8 L305.4,641.9" stroke-width="0.9"/>
<path d="M302.1,641.4 L302.1,663.2 L296.4,662.1 L296.4,640.3" stroke-width="0.9"/>
<path d="M293.3,639.7 L293.3,661.5 L287.8,660.2 L287.8,638.5" stroke-width="0.9"/>
<path d="M284.8,637.7 L284.8,659.4 L279.6,657.9 L279.6,636.3" stroke-width="0.9"/>
<path d="M276.8,635.5 L276.8,657.1 L272.0,655.4 L272.0,633.9" stroke-width="0.9"/>
<path d="M269.4,633.0 L269.4,654.4 L264.9,652.6 L264.9,631.2" stroke-width="0.9"/>
<path d="M262.5,630.2 L262.5,651.5 L258.4,649.6 L258.4,628.3" stroke-width="0.9"/>
<path d="M256.3,627.2 L256.3,648.4 L252.7,646.3 L252.7,625.2" stroke-width="0.9"/>
<path d="M250.8,624.1 L250.8,645.1 L247.6,642.9 L247.6,621.9" stroke-width="0.9"/>
<path d="M246.0,620.7 L246.0,641.6 L243.3,639.3 L243.3,618.5" stroke-width="0.9"/>
<path d="M241.9,617.2 L241.9,637.9 L239.8,635.5 L239.8,614.9" stroke-width="0.9"/>
<path d="M238.7,613.6 L238.7,634.1 L237.1,631.7 L237.1,611.2" stroke-width="0.9"/>
<path d="M236.3,609.9 L236.3,630.3 L235.2,627.7 L235.2,607.4" stroke-width="0.9"/>
<path d="M234.7,606.1 L234.7,626.3 L234.2,623.7 L234.2,603.6" stroke-width="0.9"/>
<path d="M285,629.8 L285,572 Q285,559 299,558.8 L393,558.8 Q406.2,559 406.2,572 L406.2,630"/>
<path d="M287.8,573 Q288,561.8 300.5,561.6 L391.5,561.6 Q403.4,561.8 403.4,573 L403.4,609 Q403.2,616 396,618.2 Q345,625.6 295,619.8 Q287.8,618 287.8,610 Z" stroke-width="1"/>
<path d="M285,619.5 Q290,622.5 300,623 Q345,628.5 395,622 Q403,620.5 406.2,617" stroke-width="1"/>
<path d="M288.8,594.6 C289.8,593.8 292.2,590.9 295,589.5 C297.8,588.1 297.4,586.9 305.7,586 C314,585.1 331.6,584.1 345,584.3 C358.4,584.5 377.5,586 386,587 C394.5,588 393.7,589 396,590.5 C398.3,592 399.3,595.1 400,596"/>
<path d="M290.3,617 C291.9,617.5 290.9,619.2 300,620 C309.1,620.8 329.7,621.8 345,621.5 C360.3,621.2 382.8,619.6 392,618 C401.2,616.4 398.7,613 400,612"/>
<path d="M307.4,618.6 C307.4,614.7 307,600 307.4,595 C307.8,590 307.9,590.1 309.5,588.5 C311.1,586.9 314.4,585.5 316.8,585.4 C319.2,585.3 322.4,586.6 324,588 C325.6,589.4 326.1,588.9 326.6,594 C327.1,599.1 326.9,614.5 327,618.6"/>
<path d="M360,600 C360.5,599.2 361.2,596 363,595 C364.8,594 368.5,594.8 371,594 C373.5,593.2 375.8,591.1 378,590 C380.2,588.9 381.8,587.7 384,587.5 C386.2,587.3 389.3,587.8 391,589 C392.7,590.2 394.5,593 394,595 C393.5,597 390.3,599.4 388,601 C385.7,602.6 382.7,603.8 380,604.5 C377.3,605.2 374.3,605.4 372,605.5 C369.7,605.6 367,605.1 366,605"/>
<path d="M383,618.5 C383,616.8 382.6,610.3 383,608 C383.4,605.7 385.1,605.1 385.5,604.5"/>
<path d="M334,600.5 L334,617 Q345,622.5 356.2,617 L356.2,600.5" fill="#fff"/>
<ellipse cx="345.1" cy="600.6" rx="11.1" ry="4.3" fill="#fff"/>
<path d="M336.5,552 L336.5,601.5 Q345.4,605 354.4,601.5 L354.4,552" fill="#fff"/>
<path d="M344.1,555.4 L344.1,603.8" stroke-width="1"/>
<path d="M347.6,555.4 L347.6,603.8" stroke-width="1"/>
<ellipse cx="345.4" cy="551.8" rx="9" ry="3.6" fill="#fff"/>
<ellipse cx="345.4" cy="551.6" rx="5" ry="2" stroke-width="1"/>
<path d="M233,588.9 L275.9,580.5"/>
</g>

</g>
<g transform="translate(354.2 472.8) rotate(-11.6) skewX(-14) scale(0.62 1)">
<text x="0" y="0" font-family="Liberation Sans" font-weight="bold" font-size="23" fill="#1e1e1e" letter-spacing="-0.3">Coleman</text>
</g>

</svg>
</body></html>
